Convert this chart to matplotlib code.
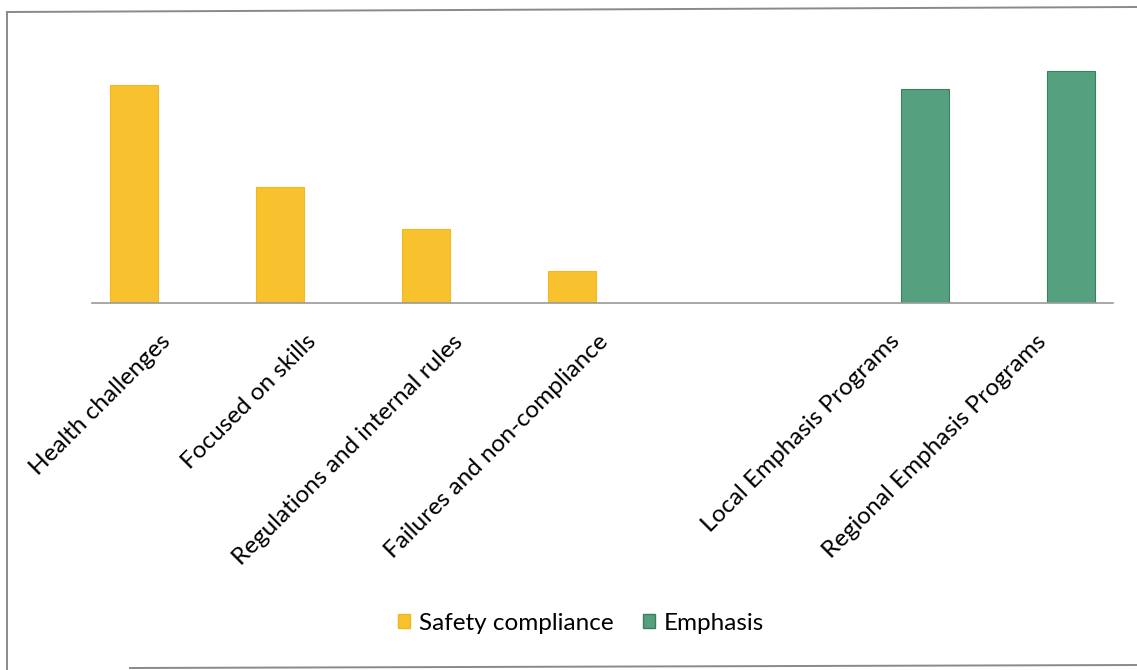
import numpy as np
import matplotlib
matplotlib.use("Agg")
import matplotlib.pyplot as plt
from matplotlib.lines import Line2D
from matplotlib.patches import Patch
from matplotlib.transforms import ScaledTranslation

plt.rcParams['font.family'] = ['Lato', 'DejaVu Sans']

categories = ["Health challenges", "Focused on skills", "Regulations and internal rules",
              "Failures and non-compliance", "", "Local Emphasis Programs",
              "Regional Emphasis Programs"]
safety_compliance = [47, 25, 16, 7, np.nan, np.nan, np.nan]
emphasis = [np.nan, np.nan, np.nan, np.nan, np.nan, 46.2, 50]

YELLOW = "#F8C22E"
GREEN = "#55A07F"

W, H = 1137, 670
fig = plt.figure(figsize=(W / 100, H / 100), dpi=100)
ax = fig.add_axes([92 / W, 1 - 303 / H, (1113 - 92) / W, (303 - 50) / H])

x = np.arange(len(categories))
bw = 0.33
off = 0.21
ax.bar(x - off, safety_compliance, bw, color=YELLOW, edgecolor="#F0B81E", linewidth=0.8,
       label="Safety compliance")
ax.bar(x + off, emphasis, bw, color=GREEN, edgecolor="#3E7E60", linewidth=0.8,
       label="Emphasis")

ax.set_xlim(-0.5, len(categories) - 0.5)
ax.set_ylim(0, 54.5)
for s in ["top", "right", "left"]:
    ax.spines[s].set_visible(False)
ax.spines["bottom"].set_color("#9a9a9a")
ax.spines["bottom"].set_linewidth(1.2)
ax.set_yticks([])
ax.set_xticks(x)
ax.set_xticklabels(categories, rotation=45, ha="right", va="top",
                   rotation_mode="anchor", fontsize=17.5, color="#000000")
ax.tick_params(axis="x", length=0, pad=20)
shift = ScaledTranslation(-5 / 100, 0, fig.dpi_scale_trans)
for lbl in ax.get_xticklabels():
    lbl.set_transform(lbl.get_transform() + shift)

handles = [Patch(facecolor=YELLOW, edgecolor="#F0B81E"),
           Patch(facecolor=GREEN, edgecolor="#3E7E60")]
fig.legend(handles, ["Safety compliance", "Emphasis"], loc="center",
           bbox_to_anchor=(581 / W, 1 - 623 / H), ncol=2, frameon=False,
           fontsize=17.5, handlelength=0.5, handleheight=0.5,
           handletextpad=0.35, columnspacing=1.2)

# outer frame of the chart area
frame = dict(color="#8a8a8a", linewidth=1.4, transform=fig.transFigure)
fig.add_artist(Line2D([7 / W, 7 / W], [1 - 12 / H, 0], **frame))
fig.add_artist(Line2D([7 / W, 1], [1 - 12 / H, 1 - 7 / H], **frame))
fig.add_artist(Line2D([130 / W, 1], [1 - 668 / H, 1 - 665 / H], **frame))

fig.savefig("out.png", dpi=100, facecolor="white")
